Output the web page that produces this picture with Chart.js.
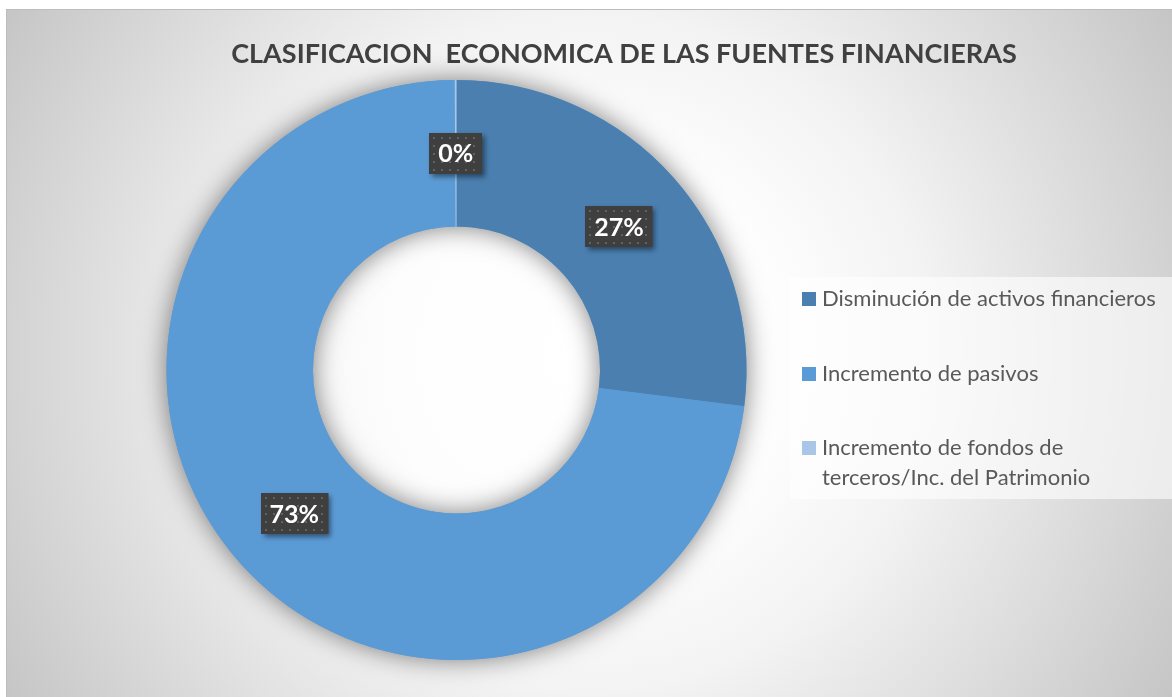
<!DOCTYPE html>
<html>
<head>
<meta charset="utf-8">
<script src="https://cdn.jsdelivr.net/npm/chart.js@4.4.1/dist/chart.umd.min.js"></script>
<style>
  body { margin: 0; background: #fff; }
  #wrap { width: 1172px; height: 697px; }
</style>
</head>
<body>
<div id="wrap"><canvas id="donutChart" width="1172" height="697"></canvas></div>
<script>
var chartTitle = 'CLASIFICACION  ECONOMICA DE LAS FUENTES FINANCIERAS';
var categories = ['Disminución de activos financieros', 'Incremento de pasivos', 'Incremento de fondos de terceros/Inc. del Patrimonio'];
var shares = [27.0, 72.9, 0.1];
var sliceColors = ['#4a7fb0', '#5b9bd5', '#a9c5e8'];

document.addEventListener('DOMContentLoaded', function() {
  var ctx = document.getElementById('donutChart').getContext('2d');

  // background, title, ring shadow
  var backdrop = {
    id: 'backdrop',
    beforeDraw: function(chart) {
      var c = chart.ctx;
      c.save();
      c.fillStyle = '#ffffff';
      c.fillRect(0, 0, chart.width, chart.height);
      var g = c.createRadialGradient(589, 353, 0, 589, 353, 680);
      g.addColorStop(0, '#ffffff');
      g.addColorStop(0.3, '#fdfdfd');
      g.addColorStop(0.5, '#f3f3f3');
      g.addColorStop(0.85, '#d3d3d3');
      g.addColorStop(1, '#c5c5c5');
      c.fillStyle = g;
      c.fillRect(6, 9, chart.width - 6, chart.height - 9);
      c.strokeStyle = '#bdbdbd';
      c.lineWidth = 1;
      c.beginPath();
      c.moveTo(6.5, chart.height);
      c.lineTo(6.5, 9.5);
      c.lineTo(chart.width, 9.5);
      c.stroke();

      c.fillStyle = '#404040';
      c.font = 'bold 27px Lato';
      c.textAlign = 'center';
      c.textBaseline = 'alphabetic';
      c.fillText(chartTitle, 624, 63);
      c.restore();
    },
    beforeDatasetsDraw: function(chart) {
      var arc = chart.getDatasetMeta(0).data[0];
      var c = chart.ctx;
      c.save();
      c.shadowColor = 'rgba(0,0,0,0.5)';
      c.shadowBlur = 26;
      c.fillStyle = '#5b9bd5';
      c.beginPath();
      c.arc(arc.x, arc.y, arc.outerRadius, 0, Math.PI * 2);
      c.arc(arc.x, arc.y, arc.innerRadius, 0, Math.PI * 2, true);
      c.fill();
      c.restore();
    }
  };

  // dark percent boxes on the ring
  var sliceLabels = {
    id: 'sliceLabels',
    afterDatasetsDraw: function(chart) {
      var c = chart.ctx;
      var total = shares.reduce(function(a, b) { return a + b; }, 0);
      chart.getDatasetMeta(0).data.forEach(function(arc, i) {
        var p = arc.tooltipPosition();
        var txt = Math.round(shares[i] / total * 100) + '%';
        c.save();
        c.font = 'bold 25px Lato';
        var w = Math.max(50, c.measureText(txt).width + 18);
        var h = 41;
        var x = Math.round(p.x - w / 2), y = Math.round(p.y - h / 2);
        c.shadowColor = 'rgba(0,0,0,0.45)';
        c.shadowBlur = 5;
        c.shadowOffsetX = 3;
        c.shadowOffsetY = 3;
        c.fillStyle = '#3f3f3f';
        c.fillRect(x, y, w, h);
        c.shadowColor = 'transparent';
        c.fillStyle = '#626262';
        for (var dx = 4; dx < w - 1; dx += 8) {
          for (var dy = 4; dy < h - 1; dy += 8) {
            c.fillRect(x + dx, y + dy, 2, 2);
          }
        }
        c.fillStyle = '#ffffff';
        c.textAlign = 'center';
        c.textBaseline = 'middle';
        c.fillText(txt, p.x, p.y + 1);
        c.restore();
      });
    }
  };

  // legend box on the right
  var sideLegend = {
    id: 'sideLegend',
    afterDraw: function(chart) {
      var c = chart.ctx;
      c.save();
      c.fillStyle = 'rgba(255,255,255,0.6)';
      c.fillRect(790, 277, 382, 222);
      var rows = [299, 374, 448];
      c.font = '22px Lato';
      c.textBaseline = 'middle';
      c.textAlign = 'left';
      chart.data.labels.forEach(function(label, i) {
        c.fillStyle = sliceColors[i];
        c.fillRect(802, rows[i] - 7, 14, 14);
        c.fillStyle = '#595959';
        var words = label.split(' '), line = '', y = rows[i];
        words.forEach(function(wd) {
          var test = line ? line + ' ' + wd : wd;
          if (c.measureText(test).width > 345 && line) {
            c.fillText(line, 822, y);
            line = wd;
            y += 30;
          } else {
            line = test;
          }
        });
        c.fillText(line, 822, y);
      });
      c.restore();
    }
  };

  var data = {
    labels: categories,
    datasets: [{
      data: shares,
      backgroundColor: sliceColors,
      borderWidth: 0
    }]
  };

  var options = {
    responsive: false,
    animation: false,
    cutout: '49.5%',
    layout: {
      padding: { top: 80, bottom: 37, left: 166, right: 425 }
    },
    plugins: {
      legend: { display: false },
      tooltip: { enabled: false }
    }
  };

  new Chart(ctx, {
    type: 'doughnut',
    data: data,
    options: options,
    plugins: [backdrop, sliceLabels, sideLegend]
  });
});
</script>
</body>
</html>
